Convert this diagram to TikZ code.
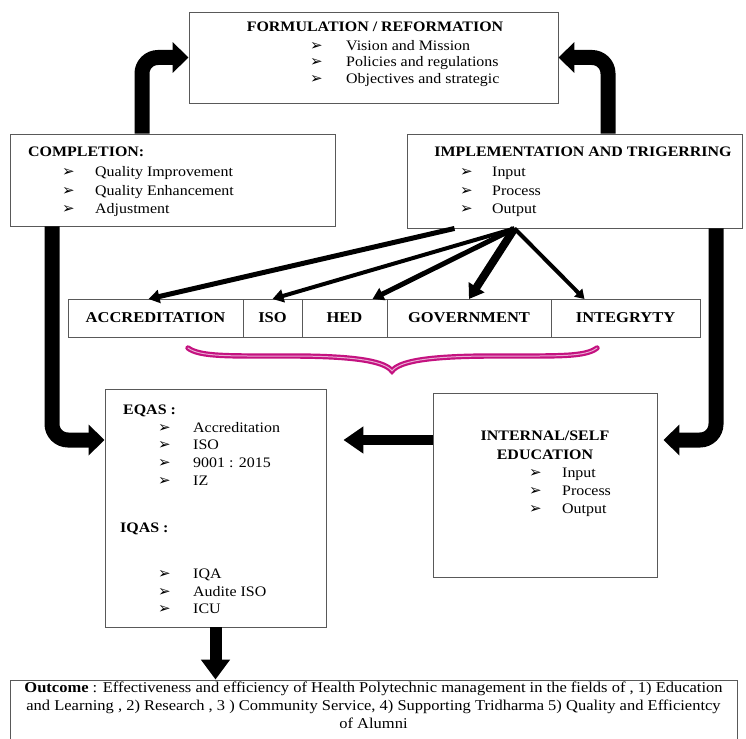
\documentclass[tikz,border=0pt]{standalone}
\usepackage{fontspec}
\setmainfont{Liberation Serif}[FakeStretch=1.1]
\newfontfamily\dingfont{DejaVu Sans}
\usetikzlibrary{arrows.meta, positioning}
\definecolor{bracepink}{RGB}{196,18,128}
\newcommand{\pointer}{{\dingfont\fontsize{15}{15}\selectfont ➢}}

\tikzset{
  box/.style={draw=black!65, line width=0.9pt, rectangle, inner sep=0pt},
  rowbox/.style={box, minimum height=38pt, outer sep=0pt, font=\bfseries\fontsize{15}{17}\selectfont},
  txt/.style={anchor=base west, inner sep=0pt},
  ttl/.style={txt, font=\bfseries\fontsize{14.5}{17}\selectfont},
  bigarrow/.style={line width=15pt, rounded corners=16pt, -{Triangle[width=30pt,length=16pt]}},
  link/.style={-{Triangle[width=13pt,length=11pt]}}
}

\begin{document}
\begin{tikzpicture}[x=1pt, y=-1pt, font=\fontsize{14.5}{17}\selectfont]
\useasboundingbox (0,0) rectangle (746,738);
\clip (0,0) rectangle (746,738);

% boxes
\node[box, minimum width=369pt, minimum height=91pt] (form) at (373.5,57.5) {};
\node[box, minimum width=325pt, minimum height=92pt] (comp) at (172.5,180) {};
\node[box, minimum width=335pt, minimum height=94pt] (impl) at (574.5,181) {};
\node[box, minimum width=221pt, minimum height=238pt] (eqas) at (215.5,508) {};
\node[box, minimum width=224pt, minimum height=184pt] (intl) at (545,485) {};
\node[box, minimum width=727pt, minimum height=80pt] (out) at (373.5,720) {};

% row of bodies
\node[rowbox, minimum width=175pt] (acc) at (155.5,318) {ACCREDITATION};
\node[rowbox, minimum width=59pt, right=0pt of acc] (iso) {ISO};
\node[rowbox, minimum width=85pt, right=0pt of iso] (hed) {HED};
\node[rowbox, minimum width=164pt, right=0pt of hed] (gov) {GOVERNMENT};
\node[rowbox, minimum width=149pt, right=0pt of gov] (integ) {INTEGRYTY};

% formulation
\node[ttl, anchor=base] (formttl) at (375,32) {FORMULATION / REFORMATION};
\node[txt] (formb1) at (310,51) {\pointer};
\node[txt] (formt1) at (346,51) {Vision and Mission};
\node[txt] (formb2) at (310,67) {\pointer};
\node[txt] (formt2) at (346,67) {Policies and regulations};
\node[txt] (formb3) at (310,84) {\pointer};
\node[txt] (formt3) at (346,84) {Objectives and strategic};

% completion
\node[ttl] (compttl) at (28,157) {COMPLETION:};
\node[txt] (compb1) at (62,177) {\pointer};
\node[txt] (compt1) at (95,177) {Quality Improvement};
\node[txt] (compb2) at (62,195) {\pointer};
\node[txt] (compt2) at (95,195) {Quality Enhancement};
\node[txt] (compb3) at (62,213) {\pointer};
\node[txt] (compt3) at (95,213) {Adjustment};

% implementation
\node[ttl, anchor=base] (implttl) at (583,157) {IMPLEMENTATION AND TRIGERRING};
\node[txt] (implb1) at (460,177) {\pointer};
\node[txt] (implt1) at (492,177) {Input};
\node[txt] (implb2) at (460,195) {\pointer};
\node[txt] (implt2) at (492,195) {Process};
\node[txt] (implb3) at (460,213) {\pointer};
\node[txt] (implt3) at (492,213) {Output};

% EQAS / IQAS
\node[ttl] (eqasttl) at (123,414) {EQAS :};
\node[txt] (eqasb1) at (158,432) {\pointer};
\node[txt] (eqast1) at (193,432) {Accreditation};
\node[txt] (eqasb2) at (158,449) {\pointer};
\node[txt] (eqast2) at (193,449) {ISO};
\node[txt] (eqasb3) at (158,467) {\pointer};
\node[txt] (eqast3) at (193,467) {9001 : 2015};
\node[txt] (eqasb4) at (158,485) {\pointer};
\node[txt] (eqast4) at (193,485) {IZ};
\node[ttl] (iqasttl) at (120,532) {IQAS :};
\node[txt] (iqasb1) at (158,578) {\pointer};
\node[txt] (iqast1) at (193,578) {IQA};
\node[txt] (iqasb2) at (158,596) {\pointer};
\node[txt] (iqast2) at (193,596) {Audite ISO};
\node[txt] (iqasb3) at (158,613) {\pointer};
\node[txt] (iqast3) at (193,613) {ICU};

% internal
\node[ttl, anchor=base] (intlttl1) at (545,440) {INTERNAL/SELF};
\node[ttl, anchor=base] (intlttl2) at (545,459) {EDUCATION};
\node[txt] (intlb1) at (529,477) {\pointer};
\node[txt] (intlt1) at (562,477) {Input};
\node[txt] (intlb2) at (529,495) {\pointer};
\node[txt] (intlt2) at (562,495) {Process};
\node[txt] (intlb3) at (529,513) {\pointer};
\node[txt] (intlt3) at (562,513) {Output};

% outcome
\node[anchor=north, inner sep=0pt, align=center, font=\fontsize{15}{18}\selectfont] (outtxt) at (373.5,682)
  {\textbf{Outcome} : Effectiveness and efficiency of Health Polytechnic management in the fields of , 1) Education\\
   and Learning , 2) Research , 3 ) Community Service, 4) Supporting Tridharma 5) Quality and Efficientcy\\
   of Alumni};

% cycle arrows
\draw[bigarrow] ([xshift=-30.5pt]comp.north) |- (form.west);
\draw[bigarrow] ([xshift=33.5pt]impl.north) |- (form.east);
\draw[bigarrow] ([xshift=-120.5pt]comp.south) |- ([yshift=68pt]eqas.west);
\draw[bigarrow, shorten >=6pt] ([xshift=141.5pt]impl.south) |- ([yshift=45pt]intl.east);
\draw[line width=10pt, -{Triangle[width=26pt,length=20pt]}, shorten >=17pt]
  ([yshift=45pt]intl.west) -- ([yshift=68pt]eqas.east);
\draw[line width=12pt, -{Triangle[width=28pt,length=20pt]}] (eqas.south) -- (eqas.south |- out.north);

% links to the bodies
\draw[link, line width=5pt] ([xshift=-120pt]impl.south) -- ([xshift=-7pt]acc.north);
\draw[link, line width=4pt] ([xshift=-60pt]impl.south) -- (iso.north);
\draw[link, line width=5pt] ([xshift=-60pt]impl.south) -- ([xshift=28pt]hed.north);
\draw[line width=8pt, -{Triangle[width=18pt,length=14pt]}] ([xshift=-60pt]impl.south) -- (gov.north);
\draw[line width=4pt, -{Triangle[width=11pt,length=9pt]}] ([xshift=-60pt]impl.south) -- ([xshift=-41pt]integ.north);

% brace under the row
\draw[bracepink, line width=2.2pt, double=bracepink!35, double distance=1pt, line cap=round]
  (188,348) .. controls (200,357) and (230,356) .. (290,356)
  .. controls (360,356) and (385,362) .. (392,371)
  .. controls (399,362) and (424,356) .. (494,356)
  .. controls (560,356) and (585,357) .. (597,348);
\end{tikzpicture}
\end{document}
